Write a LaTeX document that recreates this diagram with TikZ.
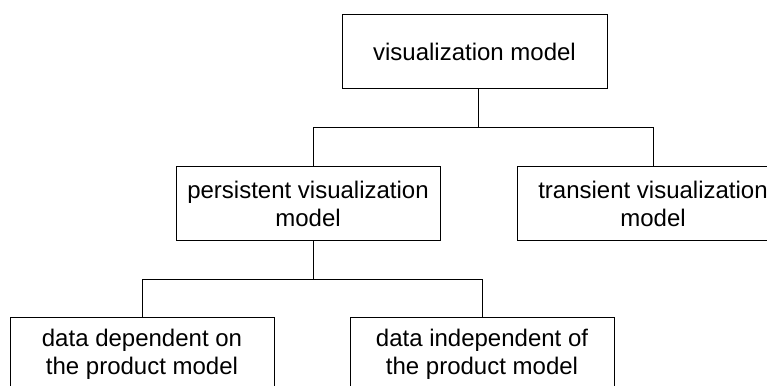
\documentclass[tikz,border=0pt]{standalone}
\usepackage{fontspec}
\setmainfont{Liberation Sans}
\usepackage{tikz}

\begin{document}
\begin{tikzpicture}[x=1pt,y=-1pt,
    box/.style={draw,line width=1pt,minimum width=#1,minimum height=74pt,
        inner sep=0pt,align=center,font=\fontsize{24}{28}\selectfont},
    box/.default=265pt,
    link/.style={line width=1pt}]
    \clip (0,0) rectangle (767,385);

    \node[box] (vis) at (474.5,51.5) {visualization model};
    \node[box=264pt] (pers) at (308,203.5) {persistent visualization\\model};
    \node[box=272pt] (trans) at (653,203.5) {transient visualization\\model};
    \node[box=264pt] (dep) at (142,354) {data dependent on\\the product model};
    \node[box=264pt] (indep) at (482,354) {data independent of\\the product model};

    \coordinate (j1) at (478,127);
    \coordinate (j2) at (313,279);

    \draw[link] (vis.south -| j1) -- (j1);
    \draw[link] (j1) -| (pers.north -| j2);
    \draw[link] (j1) -| (trans.north);

    \draw[link] (pers.south -| j2) -- (j2);
    \draw[link] (j2) -| (dep.north);
    \draw[link] (j2) -| (indep.north);
\end{tikzpicture}
\end{document}
